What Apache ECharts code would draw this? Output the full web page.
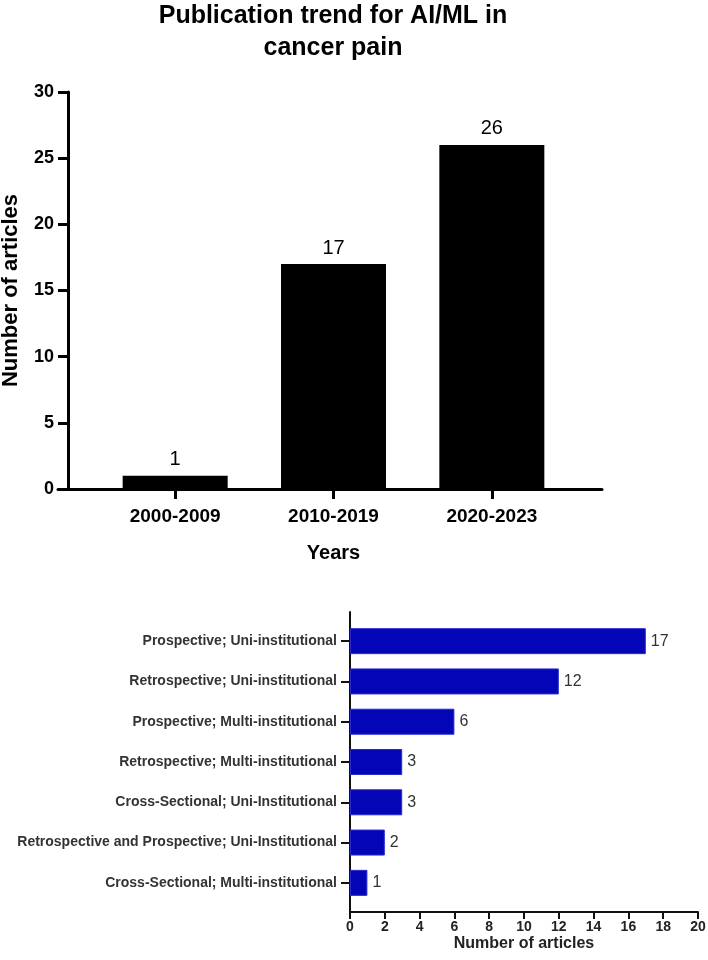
<!DOCTYPE html>
<html>
<head>
<meta charset="utf-8">
<script src="https://cdn.jsdelivr.net/npm/echarts@6/dist/echarts.min.js"></script>
<style>
  html, body { margin: 0; padding: 0; background: #fff; }
  #chart { width: 708px; height: 960px; }
</style>
</head>
<body>
<div id="chart"></div>
<script>
// top chart: publications per period
const periods = ['2000-2009', '2010-2019', '2020-2023'];
const periodCounts = [1, 17, 26];

// bottom chart: study design
const designs = [
  'Prospective; Uni-institutional',
  'Retrospective; Uni-institutional',
  'Prospective; Multi-institutional',
  'Retrospective; Multi-institutional',
  'Cross-Sectional; Uni-Institutional',
  'Retrospective and Prospective; Uni-Institutional',
  'Cross-Sectional; Multi-institutional'
];
const designCounts = [17, 12, 6, 3, 3, 2, 1];

const font = "'Liberation Sans', Arial, sans-serif";
const chart = echarts.init(document.getElementById('chart'));

const hidden = { show: false };

chart.setOption({
  animation: false,
  title: {
    text: 'Publication trend for AI/ML in\ncancer pain',
    left: 333,
    top: 0,
    padding: 0,
    textAlign: 'center',
    textStyle: { fontFamily: font, fontSize: 25, fontWeight: 'bold', color: '#000', lineHeight: 32 }
  },
  grid: [
    // top bars
    { left: 96, width: 475, top: 92, height: 397, outerBoundsMode: 'none' },
    // top x axis line (longer than the categories)
    { left: 58, width: 544, top: 92, height: 397, outerBoundsMode: 'none' },
    // bottom bars
    { left: 350, width: 348, top: 621, height: 282, outerBoundsMode: 'none' },
    // bottom y axis line
    { left: 350, width: 348, top: 612, height: 300, outerBoundsMode: 'none' }
  ],
  xAxis: [
    {
      gridIndex: 0,
      type: 'category',
      data: periods,
      name: 'Years',
      nameLocation: 'middle',
      nameGap: 54,
      nameTextStyle: { fontFamily: font, fontSize: 20, fontWeight: 'bold', color: '#000' },
      axisLine: hidden,
      axisTick: { show: true, alignWithLabel: true, length: 10, lineStyle: { color: '#000', width: 3 } },
      axisLabel: { margin: 18, fontFamily: font, fontSize: 19, fontWeight: 'bold', color: '#000' }
    },
    {
      gridIndex: 1,
      type: 'value',
      min: 0, max: 1,
      axisLine: { show: true, lineStyle: { color: '#000', width: 3 } },
      axisTick: hidden, axisLabel: hidden, splitLine: hidden
    },
    {
      gridIndex: 2,
      type: 'value',
      min: 0, max: 20, interval: 2,
      offset: 9,
      name: 'Number of articles',
      nameLocation: 'middle',
      nameGap: 24,
      nameTextStyle: { fontFamily: font, fontSize: 16, fontWeight: 'bold', color: '#222' },
      axisLine: { show: true, lineStyle: { color: '#111', width: 2 } },
      axisTick: { show: true, length: 7, lineStyle: { color: '#111', width: 2 } },
      axisLabel: { margin: 8, fontFamily: font, fontSize: 14, fontWeight: 'bold', color: '#222' },
      splitLine: hidden
    },
    {
      gridIndex: 3,
      type: 'value',
      show: false
    }
  ],
  yAxis: [
    {
      gridIndex: 0,
      type: 'value',
      min: 0, max: 30, interval: 5,
      offset: 28,
      name: 'Number of articles',
      nameLocation: 'middle',
      nameGap: 46,
      nameTextStyle: { fontFamily: font, fontSize: 22, fontWeight: 'bold', color: '#000' },
      axisLine: { show: true, lineStyle: { color: '#000', width: 3 } },
      axisTick: { show: true, length: 10, lineStyle: { color: '#000', width: 3 } },
      axisLabel: { margin: 14, fontFamily: font, fontSize: 18, fontWeight: 'bold', color: '#000' },
      splitLine: hidden
    },
    {
      gridIndex: 1,
      type: 'value',
      show: false
    },
    {
      gridIndex: 2,
      type: 'category',
      data: designs,
      inverse: true,
      axisLine: hidden,
      axisTick: { show: true, alignWithLabel: true, length: 9, lineStyle: { color: '#111', width: 2 } },
      axisLabel: { margin: 13, fontFamily: font, fontSize: 14, fontWeight: 'bold', color: '#333' }
    },
    {
      gridIndex: 3,
      type: 'value',
      min: 0, max: 1,
      axisLine: { show: true, lineStyle: { color: '#111', width: 2 } },
      axisTick: hidden, axisLabel: hidden, splitLine: hidden
    }
  ],
  series: [
    {
      type: 'bar',
      xAxisIndex: 0,
      yAxisIndex: 0,
      data: periodCounts,
      barWidth: 105,
      itemStyle: { color: '#000' },
      label: {
        show: true,
        position: 'top',
        distance: 6,
        fontFamily: font,
        fontSize: 20,
        color: '#000'
      }
    },
    {
      type: 'bar',
      xAxisIndex: 2,
      yAxisIndex: 2,
      data: designCounts,
      barWidth: 26,
      itemStyle: { color: '#0505b8', borderColor: '#2a2ad0', borderWidth: 1 },
      label: {
        show: true,
        position: 'right',
        distance: 5,
        fontFamily: font,
        fontSize: 16,
        color: '#333'
      }
    }
  ]
});
</script>
</body>
</html>
